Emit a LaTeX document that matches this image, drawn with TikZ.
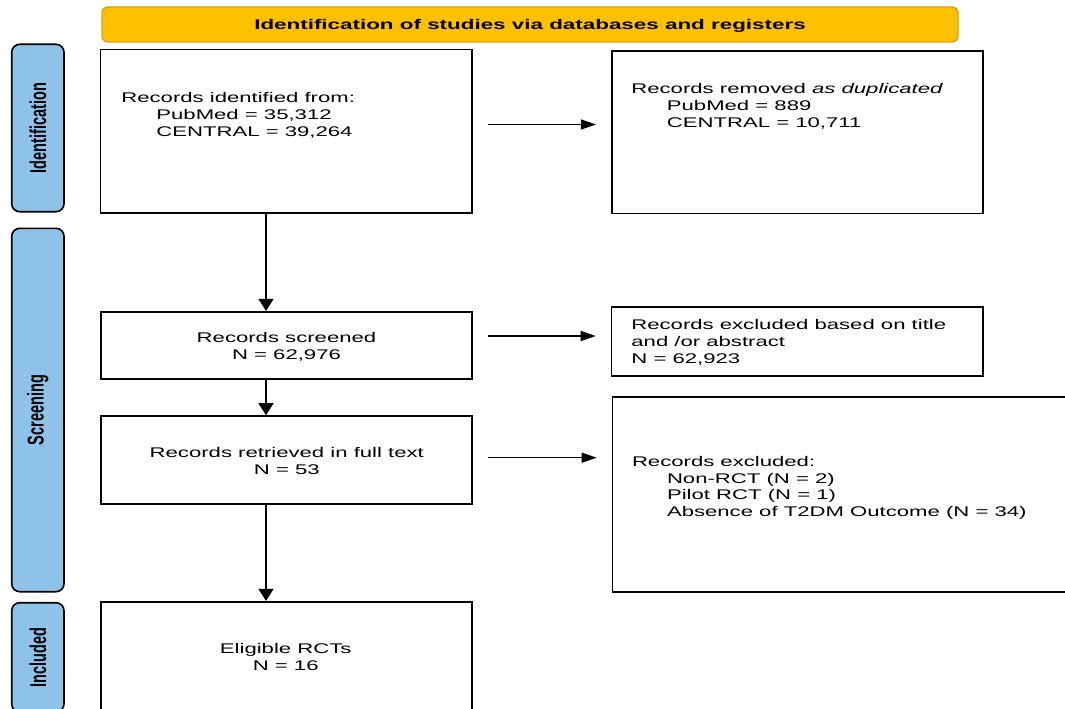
\documentclass[tikz,border=0pt]{standalone}
\usepackage{fontspec}
\setmainfont{Liberation Sans}
\newfontfamily\bodyfont[FakeStretch=1.58]{Liberation Sans}
\newfontfamily\banfont[FakeStretch=1.6]{Liberation Sans}
\newfontfamily\sidefont[FakeStretch=0.633]{Liberation Sans}
\usetikzlibrary{arrows.meta}
\definecolor{bannerfill}{RGB}{255,192,0}
\definecolor{bannerdraw}{RGB}{222,160,20}
\definecolor{sidefill}{RGB}{142,195,233}
\begin{document}
\begin{tikzpicture}[x=1pt,y=-1pt,
  box/.style={draw=black, line width=1.6pt, inner sep=0pt},
  txt/.style={font=\bodyfont\fontsize{14}{16.7}\selectfont, inner sep=0pt},
  varr/.style={-{Triangle[length=12pt,width=15pt]}, line width=1.1pt},
  harr/.style={-{Triangle[length=15pt,width=10pt]}, line width=1.1pt},
  phase/.style={draw=black, line width=1.6pt, fill=sidefill, rounded corners=8pt, minimum width=52.3pt, inner sep=0pt},
  sidetxt/.style={font=\sidefont\bfseries\fontsize{22.9}{24}\selectfont, rotate=90, inner sep=0pt},
  banner/.style={draw=bannerdraw, line width=1.4pt, fill=bannerfill, rounded corners=6pt, inner sep=0pt}
]
\useasboundingbox (0,0) rectangle (1065,709);
\clip (0,0) rectangle (1065,709);

% banner
\node[banner, minimum width=856pt, minimum height=35pt] (ban) at (530,24.5) {};
\node[inner sep=0pt, font=\banfont\bfseries\fontsize{14}{16.7}\selectfont, anchor=base] (bantxt) at (530,29.3) {Identification of studies via databases and registers};

% phase labels
\node[phase, minimum height=167.4pt] (pid) at (37.85,128) {};
\node[sidetxt] (pidt) at (pid.center) {Identification};
\node[phase, minimum height=363.4pt] (pscr) at (37.85,410) {};
\node[sidetxt] (pscrt) at (pscr.center) {Screening};
\node[phase, minimum height=109.3pt] (pinc) at (37.85,657.35) {};
\node[sidetxt] (pinct) at (pinc.center) {Included};

% boxes
\node[box, minimum width=371.5pt, minimum height=163.5pt] (b1) at (286.25,131.25) {};
\node[box, minimum width=371.3pt, minimum height=162.3pt] (b2) at (797.35,132.15) {};
\node[box, minimum width=371.3pt, minimum height=67.3pt] (b3) at (286.35,345.35) {};
\node[box, minimum width=371.5pt, minimum height=69pt] (b4) at (797.25,341.2) {};
\node[box, minimum width=371.3pt, minimum height=88pt] (b5) at (286.35,460) {};
\node[box, minimum width=487.5pt, minimum height=195pt] (b6) at (856.25,494.2) {};
\node[box, minimum width=371.3pt, minimum height=111.3pt] (b7) at (286.35,657.35) {};

% texts (base anchor = baseline of the last line)
\node[txt, align=left, anchor=base west] (t1) at (121.2,136.3)
  {Records identified from:\\\hspace*{35pt}PubMed = 35,312\\\hspace*{35pt}CENTRAL = 39,264};
\node[txt, align=left, anchor=base west] (t2) at (631.2,127)
  {Records removed \textit{as duplicated}\\\hspace*{35.5pt}PubMed = 889\\\hspace*{35.5pt}CENTRAL = 10,711};
\node[txt, align=center, anchor=base] (t3) at (286.5,359.4)
  {Records screened\\N = 62,976};
\node[txt, align=left, anchor=base west] (t4) at (631.2,363)
  {Records excluded based on title\\and /or abstract\\N = 62,923};
\node[txt, align=center, anchor=base] (t5) at (286.8,474.4)
  {Records retrieved in full text\\N = 53};
\node[txt, align=left, anchor=base west] (t6) at (631.8,516.4)
  {Records excluded:\\\hspace*{35pt}Non-RCT (N = 2)\\\hspace*{35pt}Pilot RCT (N = 1)\\\hspace*{35pt}Absence of T2DM Outcome (N = 34)};
\node[txt, align=center, anchor=base] (t7) at (285.7,670.3)
  {Eligible RCTs\\N = 16};

% connectors
\coordinate (vx) at (266,0);
\coordinate (h1) at (0,124.5);
\coordinate (h2) at (0,336);
\coordinate (h3) at (0,457.7);
\draw[varr] (b1.south -| vx) -- (b3.north -| vx);
\draw[varr] (b3.south -| vx) -- (b5.north -| vx);
\draw[varr] (b5.south -| vx) -- (b7.north -| vx);
\draw[harr, shorten <=15pt, shorten >=15pt] (b1.east |- h1) -- (b2.west |- h1);
\draw[harr, shorten <=15pt, shorten >=15pt] (b3.east |- h2) -- (b4.west |- h2);
\draw[harr, shorten <=15pt, shorten >=15pt] (b5.east |- h3) -- (b6.west |- h3);
\end{tikzpicture}
\end{document}
